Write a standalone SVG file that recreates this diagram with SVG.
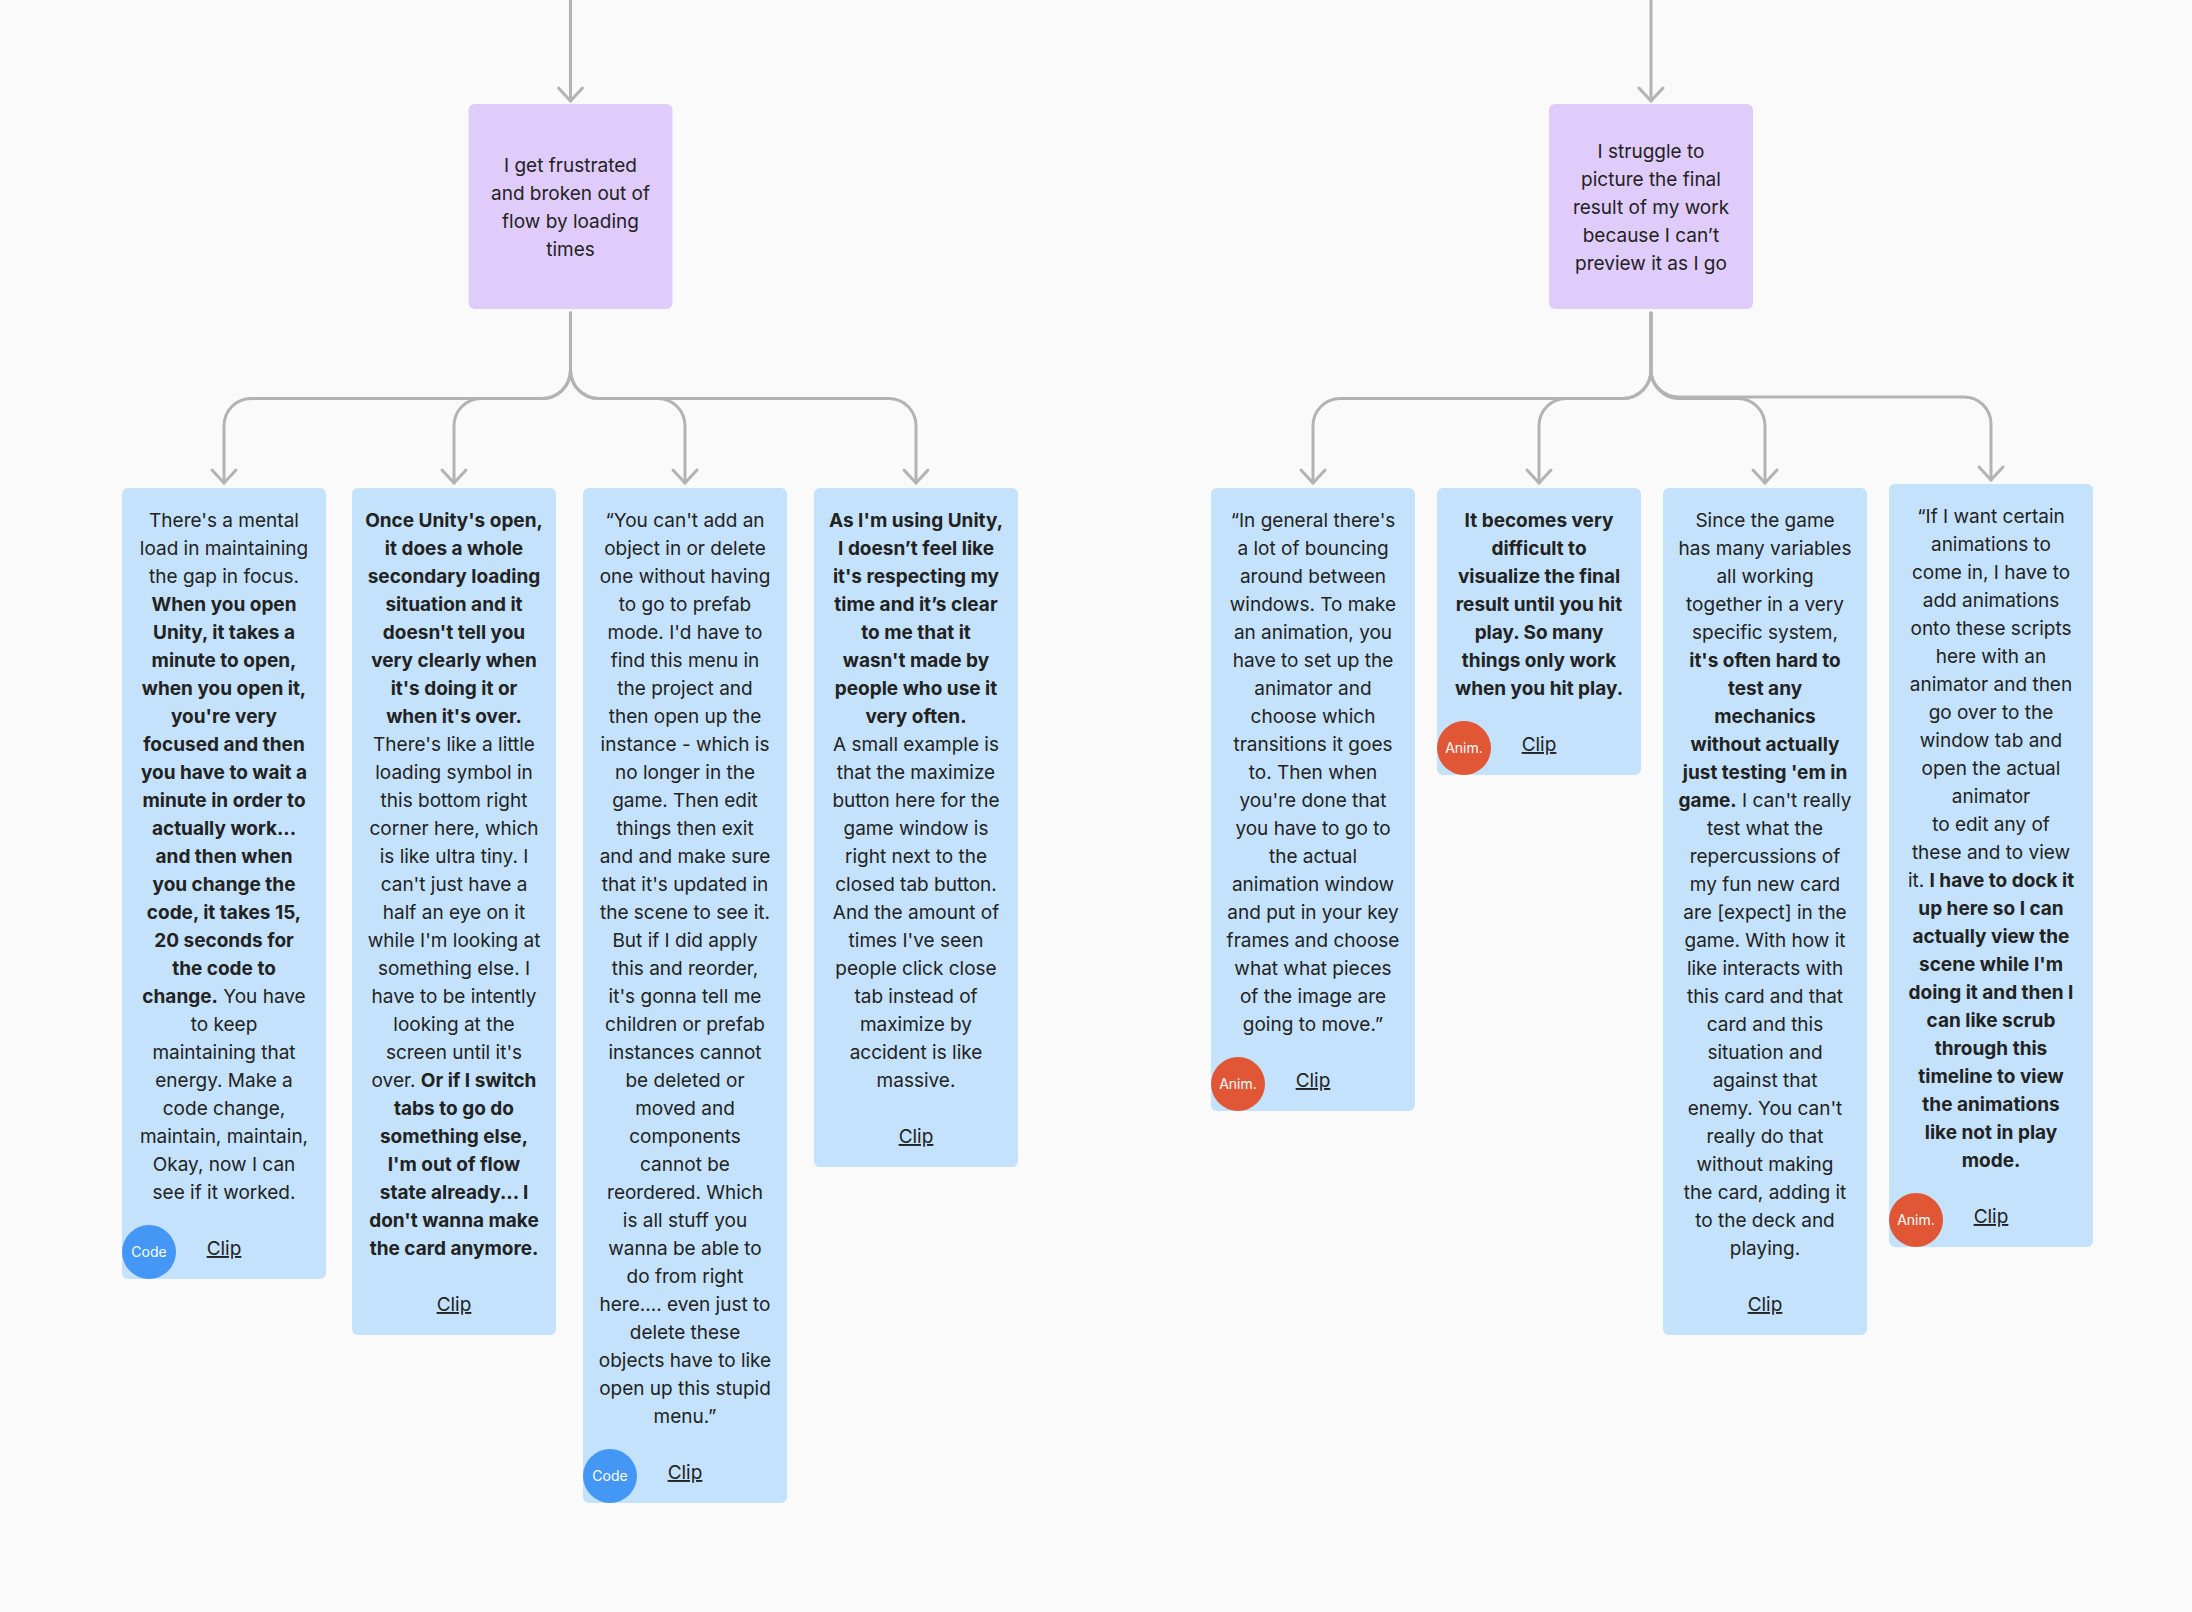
<svg xmlns="http://www.w3.org/2000/svg" width="2192" height="1612" viewBox="0 0 2192 1612">
<defs>
<style>
.bg{fill:#fafafa}
.card{fill:#c4e2fb}
.prob{fill:#e0ccfa}
.t{font-family:"Inter","Liberation Sans",sans-serif;font-size:19px;fill:#222222;text-anchor:middle}
.b{font-weight:700}
.clip{text-decoration:underline}
.badge-t{font-family:"Inter","Liberation Sans",sans-serif;font-size:14px;fill:#ffffff;text-anchor:middle}
.code{fill:#4597f5}
.anim{fill:#e15634}
.conn{fill:none;stroke:#b3b3b3;stroke-width:3;stroke-linecap:round;stroke-linejoin:round}
</style>
<marker id="arr" markerUnits="userSpaceOnUse" markerWidth="30" markerHeight="30" viewBox="-15 -15 30 30" refX="0" refY="0" orient="auto" overflow="visible">
<path d="M-13,-12 L0,0 L-13,12" fill="none" stroke="#b3b3b3" stroke-width="3" stroke-linecap="round" stroke-linejoin="round"/>
</marker>
</defs>
<rect class="bg" x="0" y="0" width="2192" height="1612"/>

<g id="connectors">
<path class="conn" d="M570.5 0 V101" marker-end="url(#arr)"/>
<path class="conn" d="M1651 0 V101" marker-end="url(#arr)"/>
<path class="conn" d="M570.5 313 V370 A28 28.5 0 0 1 542.5 398.5 H251 A27 27.5 0 0 0 224 426 V483" marker-end="url(#arr)"/>
<path class="conn" d="M570.5 313 V370 A28 28.5 0 0 1 542.5 398.5 H481 A27 27.5 0 0 0 454 426 V483" marker-end="url(#arr)"/>
<path class="conn" d="M570.5 313 V370 A28 28.5 0 0 0 598.5 398.5 H658 A27 27.5 0 0 1 685 426 V483" marker-end="url(#arr)"/>
<path class="conn" d="M570.5 313 V370 A28 28.5 0 0 0 598.5 398.5 H889 A27 27.5 0 0 1 916 426 V483" marker-end="url(#arr)"/>
<path class="conn" d="M1651 313 V370 A28 28.5 0 0 1 1623 398.5 H1340 A27 27.5 0 0 0 1313 426 V483" marker-end="url(#arr)"/>
<path class="conn" d="M1651 313 V370 A28 28.5 0 0 1 1623 398.5 H1566 A27 27.5 0 0 0 1539 426 V483" marker-end="url(#arr)"/>
<path class="conn" d="M1651 313 V370 A28 28.5 0 0 0 1679 398.5 H1738 A27 27.5 0 0 1 1765 426 V483" marker-end="url(#arr)"/>
<path class="conn" d="M1651 313 V370 A28 27 0 0 0 1679 397 H1964 A27 27 0 0 1 1991 424 V480" marker-end="url(#arr)"/>
</g>

<g id="problem-1">
<rect class="prob" x="468.5" y="104" width="204" height="205" rx="6"/>
<text class="t" x="570.5" y="172">I get frustrated</text>
<text class="t" x="570.5" y="200">and broken out of</text>
<text class="t" x="570.5" y="228">flow by loading</text>
<text class="t" x="570.5" y="256">times</text>
</g>

<g id="problem-2">
<rect class="prob" x="1549" y="104" width="204" height="205" rx="6"/>
<text class="t" x="1651" y="158">I struggle to</text>
<text class="t" x="1651" y="186">picture the final</text>
<text class="t" x="1651" y="214">result of my work</text>
<text class="t" x="1651" y="242">because I can’t</text>
<text class="t" x="1651" y="270">preview it as I go</text>
</g>

<g id="card-1" transform="translate(122,488)">
<rect class="card" x="0" y="0" width="204" height="791" rx="6"/>
<text class="t" x="102" y="39">There's a mental</text>
<text class="t" x="102" y="67">load in maintaining</text>
<text class="t" x="102" y="95">the gap in focus.</text>
<text class="t b" x="102" y="123">When you open</text>
<text class="t b" x="102" y="151">Unity, it takes a</text>
<text class="t b" x="102" y="179">minute to open,</text>
<text class="t b" x="102" y="207">when you open it,</text>
<text class="t b" x="102" y="235">you're very</text>
<text class="t b" x="102" y="263">focused and then</text>
<text class="t b" x="102" y="291">you have to wait a</text>
<text class="t b" x="102" y="319">minute in order to</text>
<text class="t b" x="102" y="347">actually work...</text>
<text class="t b" x="102" y="375">and then when</text>
<text class="t b" x="102" y="403">you change the</text>
<text class="t b" x="102" y="431">code, it takes 15,</text>
<text class="t b" x="102" y="459">20 seconds for</text>
<text class="t b" x="102" y="487">the code to</text>
<text class="t" x="102" y="515"><tspan class="b">change.</tspan> You have</text>
<text class="t" x="102" y="543">to keep</text>
<text class="t" x="102" y="571">maintaining that</text>
<text class="t" x="102" y="599">energy. Make a</text>
<text class="t" x="102" y="627">code change,</text>
<text class="t" x="102" y="655">maintain, maintain,</text>
<text class="t" x="102" y="683">Okay, now I can</text>
<text class="t" x="102" y="711">see if it worked.</text>
<text class="t clip" x="102" y="767">Clip</text>
<circle class="code" cx="27" cy="764" r="27"/>
<text class="badge-t" x="27" y="769">Code</text>
</g>

<g id="card-2" transform="translate(352,488)">
<rect class="card" x="0" y="0" width="204" height="847" rx="6"/>
<text class="t b" x="102" y="39">Once Unity's open,</text>
<text class="t b" x="102" y="67">it does a whole</text>
<text class="t b" x="102" y="95">secondary loading</text>
<text class="t b" x="102" y="123">situation and it</text>
<text class="t b" x="102" y="151">doesn't tell you</text>
<text class="t b" x="102" y="179">very clearly when</text>
<text class="t b" x="102" y="207">it's doing it or</text>
<text class="t b" x="102" y="235">when it's over.</text>
<text class="t" x="102" y="263">There's like a little</text>
<text class="t" x="102" y="291">loading symbol in</text>
<text class="t" x="102" y="319">this bottom right</text>
<text class="t" x="102" y="347">corner here, which</text>
<text class="t" x="102" y="375">is like ultra tiny. I</text>
<text class="t" x="102" y="403">can't just have a</text>
<text class="t" x="102" y="431">half an eye on it</text>
<text class="t" x="102" y="459">while I'm looking at</text>
<text class="t" x="102" y="487">something else. I</text>
<text class="t" x="102" y="515">have to be intently</text>
<text class="t" x="102" y="543">looking at the</text>
<text class="t" x="102" y="571">screen until it's</text>
<text class="t" x="102" y="599">over. <tspan class="b">Or if I switch</tspan></text>
<text class="t b" x="102" y="627">tabs to go do</text>
<text class="t b" x="102" y="655">something else,</text>
<text class="t b" x="102" y="683">I'm out of flow</text>
<text class="t b" x="102" y="711">state already... I</text>
<text class="t b" x="102" y="739">don't wanna make</text>
<text class="t b" x="102" y="767">the card anymore.</text>
<text class="t clip" x="102" y="823">Clip</text>
</g>

<g id="card-3" transform="translate(583,488)">
<rect class="card" x="0" y="0" width="204" height="1015" rx="6"/>
<text class="t" x="102" y="39">“You can't add an</text>
<text class="t" x="102" y="67">object in or delete</text>
<text class="t" x="102" y="95">one without having</text>
<text class="t" x="102" y="123">to go to prefab</text>
<text class="t" x="102" y="151">mode. I'd have to</text>
<text class="t" x="102" y="179">find this menu in</text>
<text class="t" x="102" y="207">the project and</text>
<text class="t" x="102" y="235">then open up the</text>
<text class="t" x="102" y="263">instance - which is</text>
<text class="t" x="102" y="291">no longer in the</text>
<text class="t" x="102" y="319">game. Then edit</text>
<text class="t" x="102" y="347">things then exit</text>
<text class="t" x="102" y="375">and and make sure</text>
<text class="t" x="102" y="403">that it's updated in</text>
<text class="t" x="102" y="431">the scene to see it.</text>
<text class="t" x="102" y="459">But if I did apply</text>
<text class="t" x="102" y="487">this and reorder,</text>
<text class="t" x="102" y="515">it's gonna tell me</text>
<text class="t" x="102" y="543">children or prefab</text>
<text class="t" x="102" y="571">instances cannot</text>
<text class="t" x="102" y="599">be deleted or</text>
<text class="t" x="102" y="627">moved and</text>
<text class="t" x="102" y="655">components</text>
<text class="t" x="102" y="683">cannot be</text>
<text class="t" x="102" y="711">reordered. Which</text>
<text class="t" x="102" y="739">is all stuff you</text>
<text class="t" x="102" y="767">wanna be able to</text>
<text class="t" x="102" y="795">do from right</text>
<text class="t" x="102" y="823">here.... even just to</text>
<text class="t" x="102" y="851">delete these</text>
<text class="t" x="102" y="879">objects have to like</text>
<text class="t" x="102" y="907">open up this stupid</text>
<text class="t" x="102" y="935">menu.”</text>
<text class="t clip" x="102" y="991">Clip</text>
<circle class="code" cx="27" cy="988" r="27"/>
<text class="badge-t" x="27" y="993">Code</text>
</g>

<g id="card-4" transform="translate(814,488)">
<rect class="card" x="0" y="0" width="204" height="679" rx="6"/>
<text class="t b" x="102" y="39">As I'm using Unity,</text>
<text class="t b" x="102" y="67">I doesn’t feel like</text>
<text class="t b" x="102" y="95">it's respecting my</text>
<text class="t b" x="102" y="123">time and it’s clear</text>
<text class="t b" x="102" y="151">to me that it</text>
<text class="t b" x="102" y="179">wasn't made by</text>
<text class="t b" x="102" y="207">people who use it</text>
<text class="t b" x="102" y="235">very often.</text>
<text class="t" x="102" y="263">A small example is</text>
<text class="t" x="102" y="291">that the maximize</text>
<text class="t" x="102" y="319">button here for the</text>
<text class="t" x="102" y="347">game window is</text>
<text class="t" x="102" y="375">right next to the</text>
<text class="t" x="102" y="403">closed tab button.</text>
<text class="t" x="102" y="431">And the amount of</text>
<text class="t" x="102" y="459">times I've seen</text>
<text class="t" x="102" y="487">people click close</text>
<text class="t" x="102" y="515">tab instead of</text>
<text class="t" x="102" y="543">maximize by</text>
<text class="t" x="102" y="571">accident is like</text>
<text class="t" x="102" y="599">massive.</text>
<text class="t clip" x="102" y="655">Clip</text>
</g>

<g id="card-5" transform="translate(1211,488)">
<rect class="card" x="0" y="0" width="204" height="623" rx="6"/>
<text class="t" x="102" y="39">“In general there's</text>
<text class="t" x="102" y="67">a lot of bouncing</text>
<text class="t" x="102" y="95">around between</text>
<text class="t" x="102" y="123">windows. To make</text>
<text class="t" x="102" y="151">an animation, you</text>
<text class="t" x="102" y="179">have to set up the</text>
<text class="t" x="102" y="207">animator and</text>
<text class="t" x="102" y="235">choose which</text>
<text class="t" x="102" y="263">transitions it goes</text>
<text class="t" x="102" y="291">to. Then when</text>
<text class="t" x="102" y="319">you're done that</text>
<text class="t" x="102" y="347">you have to go to</text>
<text class="t" x="102" y="375">the actual</text>
<text class="t" x="102" y="403">animation window</text>
<text class="t" x="102" y="431">and put in your key</text>
<text class="t" x="102" y="459">frames and choose</text>
<text class="t" x="102" y="487">what what pieces</text>
<text class="t" x="102" y="515">of the image are</text>
<text class="t" x="102" y="543">going to move.”</text>
<text class="t clip" x="102" y="599">Clip</text>
<circle class="anim" cx="27" cy="596" r="27"/>
<text class="badge-t" x="27" y="601">Anim.</text>
</g>

<g id="card-6" transform="translate(1437,488)">
<rect class="card" x="0" y="0" width="204" height="287" rx="6"/>
<text class="t b" x="102" y="39">It becomes very</text>
<text class="t b" x="102" y="67">difficult to</text>
<text class="t b" x="102" y="95">visualize the final</text>
<text class="t b" x="102" y="123">result until you hit</text>
<text class="t b" x="102" y="151">play. So many</text>
<text class="t b" x="102" y="179">things only work</text>
<text class="t b" x="102" y="207">when you hit play.</text>
<text class="t clip" x="102" y="263">Clip</text>
<circle class="anim" cx="27" cy="260" r="27"/>
<text class="badge-t" x="27" y="265">Anim.</text>
</g>

<g id="card-7" transform="translate(1663,488)">
<rect class="card" x="0" y="0" width="204" height="847" rx="6"/>
<text class="t" x="102" y="39">Since the game</text>
<text class="t" x="102" y="67">has many variables</text>
<text class="t" x="102" y="95">all working</text>
<text class="t" x="102" y="123">together in a very</text>
<text class="t" x="102" y="151">specific system,</text>
<text class="t b" x="102" y="179">it's often hard to</text>
<text class="t b" x="102" y="207">test any</text>
<text class="t b" x="102" y="235">mechanics</text>
<text class="t b" x="102" y="263">without actually</text>
<text class="t b" x="102" y="291">just testing 'em in</text>
<text class="t" x="102" y="319"><tspan class="b">game.</tspan> I can't really</text>
<text class="t" x="102" y="347">test what the</text>
<text class="t" x="102" y="375">repercussions of</text>
<text class="t" x="102" y="403">my fun new card</text>
<text class="t" x="102" y="431">are [expect] in the</text>
<text class="t" x="102" y="459">game. With how it</text>
<text class="t" x="102" y="487">like interacts with</text>
<text class="t" x="102" y="515">this card and that</text>
<text class="t" x="102" y="543">card and this</text>
<text class="t" x="102" y="571">situation and</text>
<text class="t" x="102" y="599">against that</text>
<text class="t" x="102" y="627">enemy. You can't</text>
<text class="t" x="102" y="655">really do that</text>
<text class="t" x="102" y="683">without making</text>
<text class="t" x="102" y="711">the card, adding it</text>
<text class="t" x="102" y="739">to the deck and</text>
<text class="t" x="102" y="767">playing.</text>
<text class="t clip" x="102" y="823">Clip</text>
</g>

<g id="card-8" transform="translate(1889,484)">
<rect class="card" x="0" y="0" width="204" height="763" rx="6"/>
<text class="t" x="102" y="39">“If I want certain</text>
<text class="t" x="102" y="67">animations to</text>
<text class="t" x="102" y="95">come in, I have to</text>
<text class="t" x="102" y="123">add animations</text>
<text class="t" x="102" y="151">onto these scripts</text>
<text class="t" x="102" y="179">here with an</text>
<text class="t" x="102" y="207">animator and then</text>
<text class="t" x="102" y="235">go over to the</text>
<text class="t" x="102" y="263">window tab and</text>
<text class="t" x="102" y="291">open the actual</text>
<text class="t" x="102" y="319">animator</text>
<text class="t" x="102" y="347">to edit any of</text>
<text class="t" x="102" y="375">these and to view</text>
<text class="t" x="102" y="403">it. <tspan class="b">I have to dock it</tspan></text>
<text class="t b" x="102" y="431">up here so I can</text>
<text class="t b" x="102" y="459">actually view the</text>
<text class="t b" x="102" y="487">scene while I'm</text>
<text class="t b" x="102" y="515">doing it and then I</text>
<text class="t b" x="102" y="543">can like scrub</text>
<text class="t b" x="102" y="571">through this</text>
<text class="t b" x="102" y="599">timeline to view</text>
<text class="t b" x="102" y="627">the animations</text>
<text class="t b" x="102" y="655">like not in play</text>
<text class="t b" x="102" y="683">mode.</text>
<text class="t clip" x="102" y="739">Clip</text>
<circle class="anim" cx="27" cy="736" r="27"/>
<text class="badge-t" x="27" y="741">Anim.</text>
</g>
</svg>
